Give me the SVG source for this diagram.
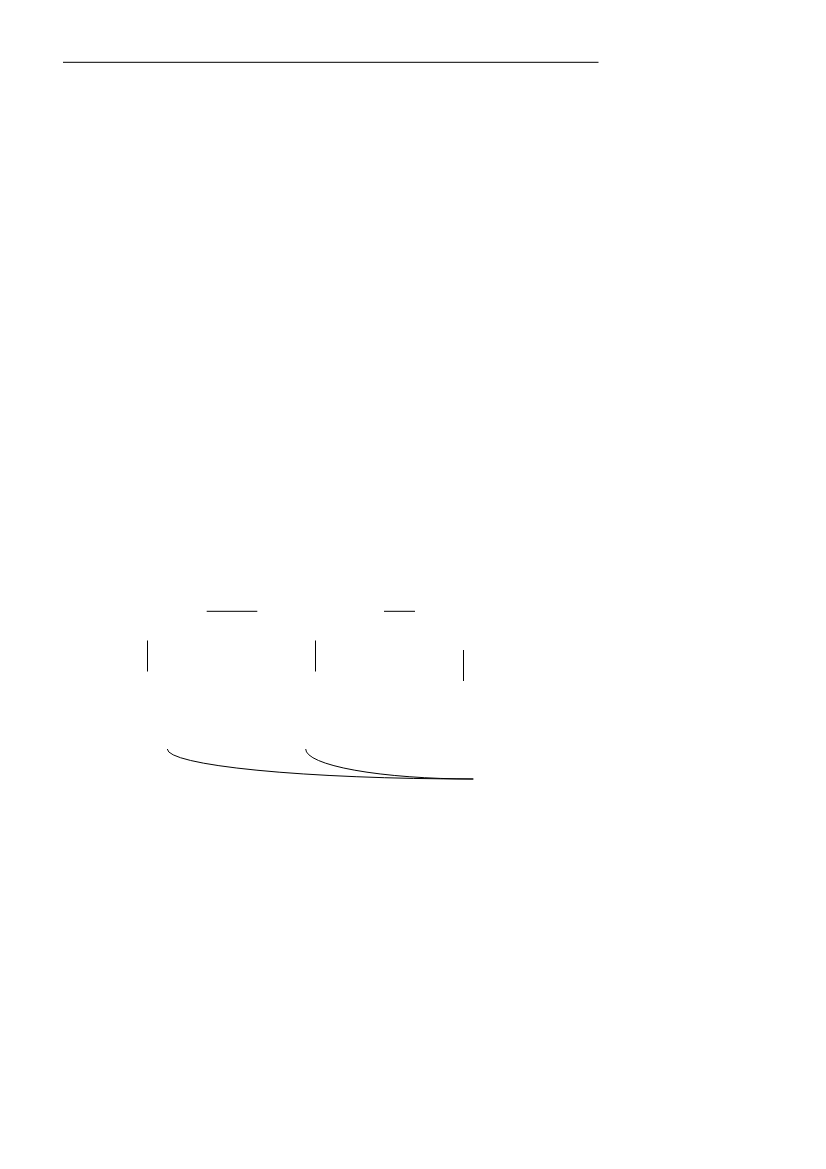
<svg xmlns="http://www.w3.org/2000/svg" width="826" height="1169" viewBox="0 0 826 1169">
<style>
.rule{stroke:#333;stroke-width:1.3;fill:none}
.ln{stroke:#000;stroke-width:1;fill:none}
</style>
<rect width="826" height="1169" fill="#fff"/>
<g id="header">
<line class="rule" x1="63" y1="62.3" x2="598.5" y2="62.3"/>
</g>
<g id="marks">
<line class="ln" x1="206.7" y1="611.3" x2="257.3" y2="611.3"/>
<line class="ln" x1="384" y1="611.3" x2="415" y2="611.3"/>
<line class="ln" x1="147.5" y1="640.5" x2="147.5" y2="671.5"/>
<line class="ln" x1="315.5" y1="640.5" x2="315.5" y2="671.5"/>
<line class="ln" x1="463.5" y1="650" x2="463.5" y2="681"/>
</g>
<g id="connectors">
<path class="ln" d="M167.3,749 A306,30 0 0 0 473.3,779"/>
<path class="ln" d="M305.7,749 A167.6,30 0 0 0 473.3,779"/>
</g>
</svg>
